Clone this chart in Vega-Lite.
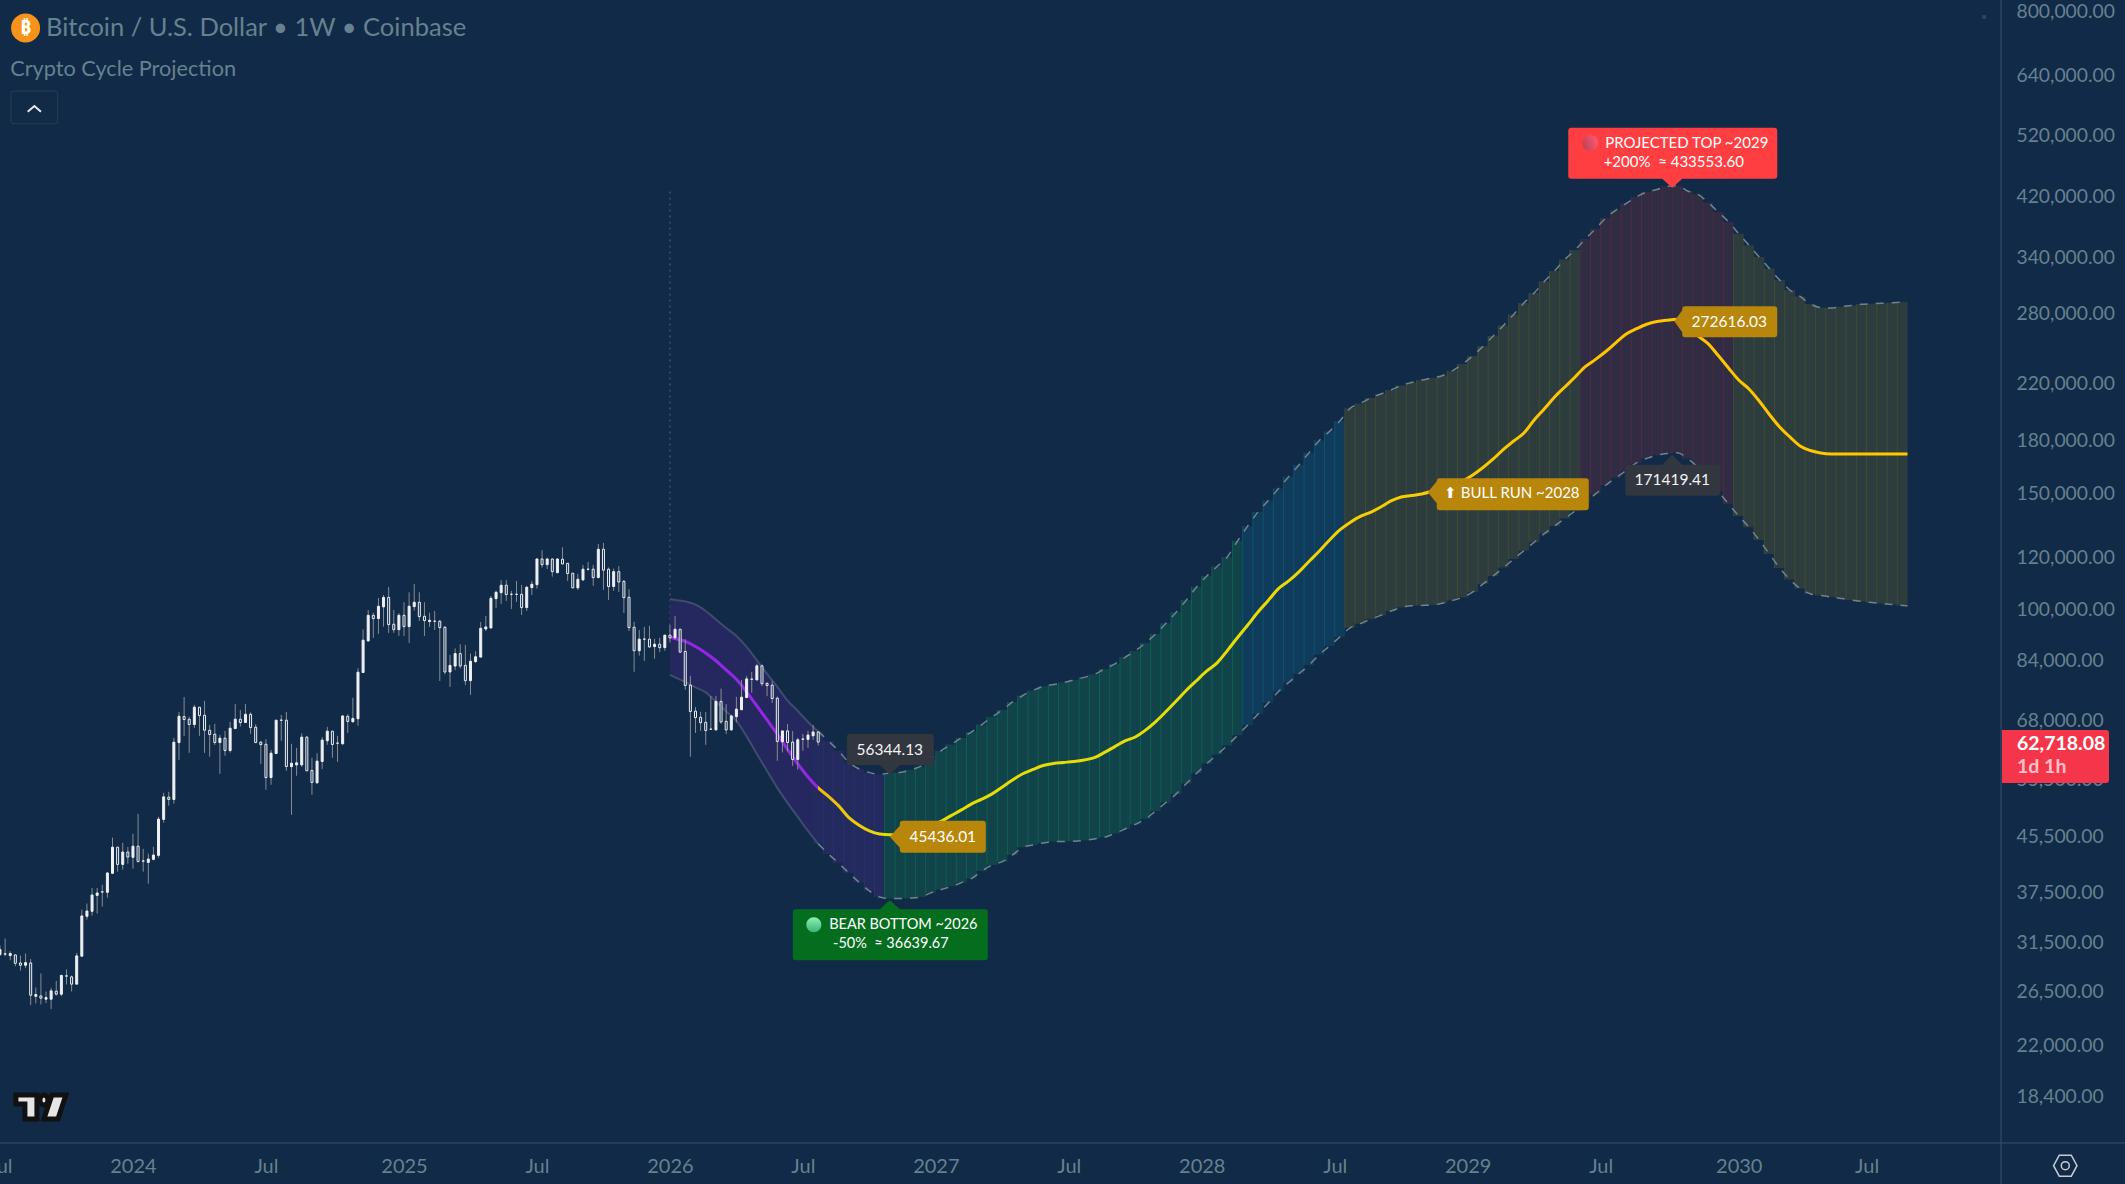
{
  "$schema": "https://vega.github.io/schema/vega-lite/v6.json",
  "width": 2001,
  "height": 1143,
  "autosize": {"type": "none"},
  "padding": {"left": 0, "top": 0, "right": 124, "bottom": 41},
  "background": "#102a48",
  "config": {"font": "Lato", "view": {"stroke": null}},
  "datasets": {
    "candles": [
      {"d":"2023-07-03","o":29965,"h":30900,"l":29800,"c":30484},
      {"d":"2023-07-10","o":30050,"h":31676,"l":29792,"c":30000},
      {"d":"2023-07-17","o":29861,"h":30311,"l":29377,"c":30069},
      {"d":"2023-07-24","o":29931,"h":29931,"l":28774,"c":29067},
      {"d":"2023-07-31","o":29100,"h":29861,"l":28350,"c":28872},
      {"d":"2023-08-07","o":28872,"h":30069,"l":28578,"c":29135},
      {"d":"2023-08-14","o":29100,"h":29515,"l":25137,"c":26013},
      {"d":"2023-08-21","o":25920,"h":26726,"l":25282,"c":26075},
      {"d":"2023-08-28","o":25951,"h":28057,"l":25195,"c":25746},
      {"d":"2023-09-04","o":25659,"h":26354,"l":25311,"c":25804},
      {"d":"2023-09-11","o":25659,"h":26695,"l":24789,"c":26416},
      {"d":"2023-09-18","o":26385,"h":27346,"l":25982,"c":26106},
      {"d":"2023-09-25","o":26106,"h":27959,"l":25920,"c":27861},
      {"d":"2023-10-02","o":27830,"h":28448,"l":27005,"c":27800},
      {"d":"2023-10-09","o":27731,"h":27861,"l":26354,"c":27036},
      {"d":"2023-10-16","o":27036,"h":30138,"l":27005,"c":29826},
      {"d":"2023-10-23","o":29792,"h":35032,"l":29792,"c":34269},
      {"d":"2023-10-30","o":34230,"h":35774,"l":33840,"c":34867},
      {"d":"2023-11-06","o":34826,"h":37770,"l":34308,"c":36854},
      {"d":"2023-11-13","o":36811,"h":37770,"l":34542,"c":37116},
      {"d":"2023-11-20","o":37270,"h":38206,"l":35403,"c":37230},
      {"d":"2023-11-27","o":37203,"h":39927,"l":36515,"c":39788},
      {"d":"2023-12-04","o":39742,"h":44996,"l":39696,"c":43522},
      {"d":"2023-12-11","o":43522,"h":43522,"l":39974,"c":40994},
      {"d":"2023-12-18","o":40994,"h":44192,"l":40252,"c":42790},
      {"d":"2023-12-25","o":42790,"h":43571,"l":41087,"c":42058},
      {"d":"2024-01-01","o":42010,"h":45596,"l":40393,"c":43672},
      {"d":"2024-01-08","o":43672,"h":48870,"l":41229,"c":41424},
      {"d":"2024-01-15","o":41500,"h":43278,"l":39974,"c":41450},
      {"d":"2024-01-22","o":41278,"h":42546,"l":38337,"c":41766},
      {"d":"2024-01-29","o":41717,"h":43571,"l":41570,"c":42351},
      {"d":"2024-02-05","o":42302,"h":48373,"l":41961,"c":47986},
      {"d":"2024-02-12","o":47931,"h":52578,"l":47379,"c":51842},
      {"d":"2024-02-19","o":51783,"h":52763,"l":50265,"c":51374},
      {"d":"2024-02-26","o":51374,"h":63644,"l":50616,"c":62682},
      {"d":"2024-03-04","o":62608,"h":69630,"l":58960,"c":68602},
      {"d":"2024-03-11","o":68524,"h":73357,"l":64088,"c":67826},
      {"d":"2024-03-18","o":67903,"h":68524,"l":60409,"c":66662},
      {"d":"2024-03-25","o":66662,"h":71378,"l":65886,"c":70790},
      {"d":"2024-04-01","o":70790,"h":70790,"l":64088,"c":68757},
      {"d":"2024-04-08","o":68834,"h":72364,"l":60409,"c":65346},
      {"d":"2024-04-15","o":65346,"h":66584,"l":59617,"c":64384},
      {"d":"2024-04-22","o":64458,"h":66817,"l":62090,"c":62608},
      {"d":"2024-04-29","o":62608,"h":64310,"l":56164,"c":63570},
      {"d":"2024-05-06","o":63570,"h":65198,"l":59788,"c":60892},
      {"d":"2024-05-13","o":60892,"h":67282,"l":60478,"c":65808},
      {"d":"2024-05-20","o":65730,"h":71618,"l":65652,"c":67903},
      {"d":"2024-05-27","o":67903,"h":70127,"l":66196,"c":67127},
      {"d":"2024-06-03","o":67127,"h":71618,"l":67050,"c":69067},
      {"d":"2024-06-10","o":69067,"h":69548,"l":64532,"c":65963},
      {"d":"2024-06-17","o":66041,"h":66740,"l":62534,"c":62608},
      {"d":"2024-06-24","o":62682,"h":62978,"l":58138,"c":62164},
      {"d":"2024-07-01","o":62238,"h":63348,"l":53136,"c":55440},
      {"d":"2024-07-08","o":55440,"h":61030,"l":54056,"c":60340},
      {"d":"2024-07-15","o":60271,"h":67748,"l":60202,"c":67670},
      {"d":"2024-07-22","o":67700,"h":68911,"l":62978,"c":67640},
      {"d":"2024-07-29","o":67670,"h":69630,"l":56757,"c":57612},
      {"d":"2024-08-05","o":57586,"h":62339,"l":48700,"c":58280},
      {"d":"2024-08-12","o":57933,"h":61472,"l":55787,"c":58349},
      {"d":"2024-08-19","o":57933,"h":64650,"l":57517,"c":63800},
      {"d":"2024-08-26","o":63800,"h":64098,"l":56753,"c":56753},
      {"d":"2024-09-02","o":56822,"h":59390,"l":52219,"c":54505},
      {"d":"2024-09-09","o":54439,"h":60352,"l":54250,"c":58696},
      {"d":"2024-09-16","o":58627,"h":63800,"l":57100,"c":63150},
      {"d":"2024-09-23","o":63005,"h":66132,"l":62118,"c":65136},
      {"d":"2024-09-30","o":65136,"h":65136,"l":59390,"c":62192},
      {"d":"2024-10-07","o":62510,"h":64098,"l":58558,"c":62460},
      {"d":"2024-10-14","o":62339,"h":68917,"l":62118,"c":68670},
      {"d":"2024-10-21","o":68587,"h":69082,"l":64728,"c":67380},
      {"d":"2024-10-28","o":67302,"h":73130,"l":67146,"c":68091},
      {"d":"2024-11-04","o":68008,"h":81078,"l":66366,"c":79965},
      {"d":"2024-11-11","o":79872,"h":92810,"l":79780,"c":89360},
      {"d":"2024-11-18","o":89150,"h":99270,"l":88840,"c":97440},
      {"d":"2024-11-25","o":97440,"h":98334,"l":90088,"c":96337},
      {"d":"2024-12-02","o":96337,"h":103482,"l":91340,"c":100557},
      {"d":"2024-12-09","o":100323,"h":104570,"l":93692,"c":103716},
      {"d":"2024-12-16","o":103716,"h":107546,"l":91652,"c":94350},
      {"d":"2024-12-23","o":94470,"h":99270,"l":91652,"c":92700},
      {"d":"2024-12-30","o":92700,"h":98217,"l":90715,"c":97440},
      {"d":"2025-01-06","o":97440,"h":101960,"l":90715,"c":93692},
      {"d":"2025-01-13","o":93692,"h":105560,"l":88530,"c":100557},
      {"d":"2025-01-20","o":100440,"h":108660,"l":99036,"c":101960},
      {"d":"2025-01-27","o":101960,"h":105560,"l":95560,"c":97000},
      {"d":"2025-02-03","o":97110,"h":101960,"l":90715,"c":95670},
      {"d":"2025-02-10","o":95340,"h":98334,"l":93580,"c":95785},
      {"d":"2025-02-17","o":95480,"h":98920,"l":92590,"c":95420},
      {"d":"2025-02-24","o":95450,"h":95900,"l":77550,"c":93360},
      {"d":"2025-03-03","o":93470,"h":93910,"l":79360,"c":80015},
      {"d":"2025-03-10","o":80015,"h":84925,"l":75994,"c":81880},
      {"d":"2025-03-17","o":81685,"h":86860,"l":80500,"c":85296},
      {"d":"2025-03-24","o":85296,"h":88110,"l":81000,"c":81685},
      {"d":"2025-03-31","o":81880,"h":87900,"l":76440,"c":77640},
      {"d":"2025-04-07","o":77640,"h":85296,"l":73900,"c":83060},
      {"d":"2025-04-14","o":82960,"h":86030,"l":82570,"c":84360},
      {"d":"2025-04-21","o":84270,"h":95230,"l":84170,"c":93140},
      {"d":"2025-04-28","o":92920,"h":97220,"l":92280,"c":93580},
      {"d":"2025-05-05","o":93250,"h":104200,"l":93030,"c":103365},
      {"d":"2025-05-12","o":103250,"h":106180,"l":99970,"c":105560},
      {"d":"2025-05-19","o":105430,"h":110150,"l":101370,"c":108170},
      {"d":"2025-05-26","o":108170,"h":110150,"l":102430,"c":104700},
      {"d":"2025-06-02","o":104850,"h":106060,"l":99620,"c":104800},
      {"d":"2025-06-09","o":104830,"h":109780,"l":102080,"c":104790},
      {"d":"2025-06-16","o":104820,"h":108290,"l":97540,"c":100090},
      {"d":"2025-06-23","o":100090,"h":107920,"l":98920,"c":107420},
      {"d":"2025-06-30","o":107300,"h":109780,"l":104570,"c":108540},
      {"d":"2025-07-07","o":108400,"h":118900,"l":106900,"c":118510},
      {"d":"2025-07-14","o":118510,"h":122280,"l":115000,"c":116200},
      {"d":"2025-07-21","o":116200,"h":119000,"l":114450,"c":118510},
      {"d":"2025-07-28","o":118510,"h":118800,"l":111450,"c":113410},
      {"d":"2025-08-04","o":113010,"h":118800,"l":112760,"c":118510},
      {"d":"2025-08-11","o":118410,"h":123430,"l":116350,"c":116480},
      {"d":"2025-08-18","o":116740,"h":116740,"l":109810,"c":112670},
      {"d":"2025-08-25","o":112800,"h":112800,"l":106960,"c":107200},
      {"d":"2025-09-01","o":107200,"h":112540,"l":106460,"c":110440},
      {"d":"2025-09-08","o":110180,"h":116080,"l":109930,"c":114380},
      {"d":"2025-09-15","o":114400,"h":117300,"l":113820,"c":114350},
      {"d":"2025-09-22","o":114380,"h":116080,"l":107950,"c":111100},
      {"d":"2025-09-29","o":111100,"h":124890,"l":110840,"c":122590},
      {"d":"2025-10-06","o":122590,"h":125330,"l":106460,"c":114000},
      {"d":"2025-10-13","o":114380,"h":115070,"l":102810,"c":107700},
      {"d":"2025-10-20","o":107700,"h":114640,"l":106090,"c":113400},
      {"d":"2025-10-27","o":113400,"h":115620,"l":105720,"c":109390},
      {"d":"2025-11-03","o":109650,"h":110180,"l":98250,"c":103610},
      {"d":"2025-11-10","o":103730,"h":106710,"l":92280,"c":93380},
      {"d":"2025-11-17","o":93490,"h":95300,"l":80070,"c":86150},
      {"d":"2025-11-24","o":86150,"h":92610,"l":84690,"c":89690},
      {"d":"2025-12-01","o":89720,"h":93600,"l":83180,"c":89660},
      {"d":"2025-12-08","o":89690,"h":93930,"l":86980,"c":87300},
      {"d":"2025-12-15","o":87400,"h":89800,"l":83770,"c":88130},
      {"d":"2025-12-22","o":88130,"h":90130,"l":85740,"c":87090},
      {"d":"2025-12-29","o":87090,"h":91050,"l":86150,"c":90940},
      {"d":"2026-01-05","o":90940,"h":94270,"l":88650,"c":90130},
      {"d":"2026-01-12","o":90130,"h":97200,"l":89480,"c":92830},
      {"d":"2026-01-19","o":92830,"h":92830,"l":85430,"c":85740},
      {"d":"2026-01-26","o":85940,"h":89690,"l":75218,"c":76354},
      {"d":"2026-02-02","o":76440,"h":78956,"l":59600,"c":69750},
      {"d":"2026-02-09","o":69840,"h":70830,"l":64730,"c":68270},
      {"d":"2026-02-16","o":68350,"h":69670,"l":65200,"c":67090},
      {"d":"2026-02-23","o":67170,"h":69590,"l":62120,"c":65280},
      {"d":"2026-03-02","o":65620,"h":73560,"l":65430,"c":65570},
      {"d":"2026-03-09","o":65430,"h":73650,"l":65280,"c":72250},
      {"d":"2026-03-16","o":72250,"h":75500,"l":66800,"c":67250},
      {"d":"2026-03-23","o":67410,"h":71560,"l":64500,"c":65430},
      {"d":"2026-03-30","o":65430,"h":68930,"l":65200,"c":68680},
      {"d":"2026-04-06","o":68510,"h":73390,"l":67170,"c":70330},
      {"d":"2026-04-13","o":70170,"h":77840,"l":70170,"c":73300},
      {"d":"2026-04-20","o":73210,"h":78960,"l":73050,"c":78120},
      {"d":"2026-04-27","o":78070,"h":80070,"l":74430,"c":78000},
      {"d":"2026-05-04","o":77840,"h":82300,"l":77750,"c":81750},
      {"d":"2026-05-11","o":81750,"h":82120,"l":76170,"c":76820},
      {"d":"2026-05-18","o":76910,"h":77190,"l":73560,"c":76354},
      {"d":"2026-05-25","o":76440,"h":77560,"l":71840,"c":72970},
      {"d":"2026-06-01","o":73050,"h":73470,"l":58770,"c":62850},
      {"d":"2026-06-08","o":62780,"h":65200,"l":60500,"c":65200},
      {"d":"2026-06-15","o":65200,"h":66800,"l":60710,"c":62630},
      {"d":"2026-06-22","o":62710,"h":65200,"l":57755,"c":59040},
      {"d":"2026-06-29","o":59040,"h":63650,"l":56970,"c":63220},
      {"d":"2026-07-06","o":63400,"h":64500,"l":60850,"c":63330},
      {"d":"2026-07-13","o":63300,"h":65200,"l":61460,"c":64270},
      {"d":"2026-07-20","o":64100,"h":66520,"l":63220,"c":64960},
      {"d":"2026-07-27","o":64960,"h":65100,"l":61970,"c":62718}
    ],
    "band": [
      {"d":"2026-01-05","hi":103130,"mid":90380,"lo":79200,"phase":"past"},
      {"d":"2026-01-12","hi":102770,"mid":89900,"lo":78530,"phase":"past"},
      {"d":"2026-01-26","hi":102240,"mid":88970,"lo":77290,"phase":"past"},
      {"d":"2026-02-09","hi":101150,"mid":87420,"lo":75820,"phase":"past"},
      {"d":"2026-02-23","hi":98920,"mid":85490,"lo":74550,"phase":"past"},
      {"d":"2026-03-09","hi":96040,"mid":83200,"lo":72170,"phase":"past"},
      {"d":"2026-03-23","hi":93250,"mid":80580,"lo":69760,"phase":"past"},
      {"d":"2026-04-06","hi":90700,"mid":78010,"lo":67490,"phase":"past"},
      {"d":"2026-04-20","hi":87300,"mid":74650,"lo":63970,"phase":"past"},
      {"d":"2026-05-04","hi":83320,"mid":71100,"lo":60180,"phase":"past"},
      {"d":"2026-05-18","hi":79470,"mid":67720,"lo":56720,"phase":"past"},
      {"d":"2026-06-01","hi":75960,"mid":64450,"lo":53480,"phase":"past"},
      {"d":"2026-06-15","hi":72450,"mid":61130,"lo":50760,"phase":"past"},
      {"d":"2026-06-29","hi":69880,"mid":58130,"lo":48350,"phase":"past"},
      {"d":"2026-07-13","hi":67260,"mid":55560,"lo":46050,"phase":"past"},
      {"d":"2026-07-27","hi":65070,"mid":53480,"lo":44020,"phase":"pivot"},
      {"d":"2026-08-10","hi":62960,"mid":51940,"lo":42510,"phase":"bear"},
      {"d":"2026-08-24","hi":60810,"mid":50240,"lo":41150,"phase":"bear"},
      {"d":"2026-09-07","hi":58410,"mid":48230,"lo":39800,"phase":"bear"},
      {"d":"2026-09-21","hi":57120,"mid":46980,"lo":38510,"phase":"bear"},
      {"d":"2026-10-05","hi":56410,"mid":46050,"lo":37380,"phase":"bear"},
      {"d":"2026-10-19","hi":56050,"mid":45550,"lo":36600,"phase":"bear"},
      {"d":"2026-11-02","hi":56344,"mid":45436,"lo":36400,"phase":"accum"},
      {"d":"2026-11-16","hi":56430,"mid":45640,"lo":36400,"phase":"accum"},
      {"d":"2026-11-30","hi":56920,"mid":46050,"lo":36450,"phase":"accum"},
      {"d":"2026-12-14","hi":57620,"mid":46530,"lo":36600,"phase":"accum"},
      {"d":"2026-12-28","hi":59140,"mid":47090,"lo":37130,"phase":"accum"},
      {"d":"2027-01-11","hi":60810,"mid":47610,"lo":37560,"phase":"accum"},
      {"d":"2027-01-25","hi":62200,"mid":48570,"lo":37950,"phase":"accum"},
      {"d":"2027-02-08","hi":63620,"mid":49540,"lo":38480,"phase":"accum"},
      {"d":"2027-02-22","hi":64960,"mid":50590,"lo":39040,"phase":"accum"},
      {"d":"2027-03-08","hi":66660,"mid":51420,"lo":40070,"phase":"accum"},
      {"d":"2027-03-22","hi":68440,"mid":52380,"lo":40920,"phase":"accum"},
      {"d":"2027-04-05","hi":70120,"mid":53660,"lo":41390,"phase":"accum"},
      {"d":"2027-04-19","hi":72100,"mid":54980,"lo":42360,"phase":"accum"},
      {"d":"2027-05-03","hi":73730,"mid":56180,"lo":43500,"phase":"accum"},
      {"d":"2027-05-17","hi":75030,"mid":57020,"lo":43860,"phase":"accum"},
      {"d":"2027-05-31","hi":76120,"mid":57810,"lo":44170,"phase":"accum"},
      {"d":"2027-06-14","hi":76600,"mid":58230,"lo":44350,"phase":"accum"},
      {"d":"2027-06-28","hi":77130,"mid":58430,"lo":44400,"phase":"accum"},
      {"d":"2027-07-12","hi":77820,"mid":58630,"lo":44440,"phase":"accum"},
      {"d":"2027-07-26","hi":78530,"mid":58930,"lo":44570,"phase":"accum"},
      {"d":"2027-08-09","hi":79340,"mid":59410,"lo":44790,"phase":"accum"},
      {"d":"2027-08-23","hi":80870,"mid":60500,"lo":45060,"phase":"accum"},
      {"d":"2027-09-06","hi":82290,"mid":61730,"lo":45660,"phase":"accum"},
      {"d":"2027-09-20","hi":84200,"mid":62960,"lo":46370,"phase":"accum"},
      {"d":"2027-10-04","hi":86080,"mid":63840,"lo":47110,"phase":"accum"},
      {"d":"2027-10-18","hi":88520,"mid":65370,"lo":48010,"phase":"accum"},
      {"d":"2027-11-01","hi":91330,"mid":67350,"lo":49370,"phase":"accum"},
      {"d":"2027-11-15","hi":94760,"mid":69740,"lo":50830,"phase":"accum"},
      {"d":"2027-11-29","hi":98450,"mid":72350,"lo":52380,"phase":"accum"},
      {"d":"2027-12-13","hi":102770,"mid":75090,"lo":54310,"phase":"accum"},
      {"d":"2027-12-27","hi":107540,"mid":77690,"lo":56270,"phase":"accum"},
      {"d":"2028-01-10","hi":111730,"mid":80300,"lo":58210,"phase":"accum"},
      {"d":"2028-01-24","hi":115440,"mid":82580,"lo":60060,"phase":"accum"},
      {"d":"2028-02-07","hi":119350,"mid":86200,"lo":61970,"phase":"accum"},
      {"d":"2028-02-21","hi":126170,"mid":90220,"lo":64220,"phase":"accum"},
      {"d":"2028-03-06","hi":132940,"mid":94230,"lo":66560,"phase":"rise"},
      {"d":"2028-03-20","hi":139560,"mid":98580,"lo":69160,"phase":"rise"},
      {"d":"2028-04-03","hi":145190,"mid":102590,"lo":71860,"phase":"rise"},
      {"d":"2028-04-17","hi":151380,"mid":106930,"lo":74780,"phase":"rise"},
      {"d":"2028-05-01","hi":157780,"mid":109800,"lo":77150,"phase":"rise"},
      {"d":"2028-05-15","hi":164330,"mid":113290,"lo":79530,"phase":"rise"},
      {"d":"2028-05-29","hi":171520,"mid":117580,"lo":82000,"phase":"rise"},
      {"d":"2028-06-12","hi":178960,"mid":121860,"lo":85020,"phase":"rise"},
      {"d":"2028-06-26","hi":184660,"mid":126600,"lo":87600,"phase":"rise"},
      {"d":"2028-07-10","hi":191450,"mid":131080,"lo":90380,"phase":"rise"},
      {"d":"2028-07-24","hi":200040,"mid":134560,"lo":93310,"phase":"bull"},
      {"d":"2028-08-07","hi":203480,"mid":137400,"lo":94660,"phase":"bull"},
      {"d":"2028-08-21","hi":207400,"mid":139380,"lo":96140,"phase":"bull"},
      {"d":"2028-09-04","hi":210310,"mid":142000,"lo":97430,"phase":"bull"},
      {"d":"2028-09-18","hi":213220,"mid":145000,"lo":98890,"phase":"bull"},
      {"d":"2028-10-02","hi":216540,"mid":147030,"lo":100140,"phase":"bull"},
      {"d":"2028-10-16","hi":218800,"mid":147750,"lo":100740,"phase":"bull"},
      {"d":"2028-10-30","hi":220760,"mid":148570,"lo":100840,"phase":"bull"},
      {"d":"2028-11-13","hi":222320,"mid":149960,"lo":100980,"phase":"bull"},
      {"d":"2028-11-27","hi":224120,"mid":151700,"lo":101610,"phase":"bull"},
      {"d":"2028-12-11","hi":227950,"mid":153560,"lo":102610,"phase":"bull"},
      {"d":"2028-12-25","hi":233420,"mid":155430,"lo":103680,"phase":"bull"},
      {"d":"2029-01-08","hi":239990,"mid":158710,"lo":105680,"phase":"bull"},
      {"d":"2029-01-22","hi":248240,"mid":162900,"lo":108670,"phase":"bull"},
      {"d":"2029-02-05","hi":257300,"mid":167780,"lo":111730,"phase":"bull"},
      {"d":"2029-02-19","hi":266850,"mid":173530,"lo":115030,"phase":"bull"},
      {"d":"2029-03-05","hi":277260,"mid":178600,"lo":118520,"phase":"bull"},
      {"d":"2029-03-19","hi":288570,"mid":183650,"lo":121990,"phase":"bull"},
      {"d":"2029-04-02","hi":298770,"mid":192110,"lo":125610,"phase":"bull"},
      {"d":"2029-04-16","hi":310940,"mid":199790,"lo":129470,"phase":"bull"},
      {"d":"2029-04-30","hi":322490,"mid":208130,"lo":132940,"phase":"bull"},
      {"d":"2029-05-14","hi":335630,"mid":215480,"lo":136470,"phase":"bull"},
      {"d":"2029-05-28","hi":346890,"mid":223080,"lo":140040,"phase":"bull"},
      {"d":"2029-06-11","hi":360420,"mid":231240,"lo":144300,"phase":"top"},
      {"d":"2029-06-25","hi":373160,"mid":237160,"lo":148570,"phase":"top"},
      {"d":"2029-07-09","hi":387720,"mid":243780,"lo":153140,"phase":"top"},
      {"d":"2029-07-23","hi":398620,"mid":251450,"lo":157230,"phase":"top"},
      {"d":"2029-08-06","hi":407790,"mid":259090,"lo":161190,"phase":"top"},
      {"d":"2029-08-20","hi":417110,"mid":263860,"lo":165480,"phase":"top"},
      {"d":"2029-09-03","hi":424420,"mid":268000,"lo":168140,"phase":"top"},
      {"d":"2029-09-17","hi":428100,"mid":270500,"lo":170000,"phase":"top"},
      {"d":"2029-10-01","hi":432800,"mid":271800,"lo":171000,"phase":"top"},
      {"d":"2029-10-15","hi":433553,"mid":272616,"lo":171420,"phase":"top"},
      {"d":"2029-10-29","hi":425890,"mid":267000,"lo":168000,"phase":"top"},
      {"d":"2029-11-12","hi":420940,"mid":257620,"lo":162960,"phase":"top"},
      {"d":"2029-11-26","hi":409340,"mid":250540,"lo":156290,"phase":"top"},
      {"d":"2029-12-10","hi":395900,"mid":240420,"lo":149910,"phase":"top"},
      {"d":"2029-12-24","hi":382630,"mid":230190,"lo":143500,"phase":"top"},
      {"d":"2030-01-07","hi":367020,"mid":220760,"lo":137640,"phase":"bull"},
      {"d":"2030-01-21","hi":352650,"mid":213970,"lo":132330,"phase":"bull"},
      {"d":"2030-02-04","hi":338590,"mid":205250,"lo":126600,"phase":"bull"},
      {"d":"2030-02-18","hi":325310,"mid":195850,"lo":120610,"phase":"bull"},
      {"d":"2030-03-04","hi":312540,"mid":187520,"lo":114870,"phase":"bull"},
      {"d":"2030-03-18","hi":301860,"mid":181110,"lo":110370,"phase":"bull"},
      {"d":"2030-04-01","hi":295160,"mid":175540,"lo":106970,"phase":"bull"},
      {"d":"2030-04-15","hi":287570,"mid":172800,"lo":105000,"phase":"bull"},
      {"d":"2030-04-29","hi":284060,"mid":171330,"lo":104370,"phase":"bull"},
      {"d":"2030-05-13","hi":283570,"mid":170730,"lo":103860,"phase":"bull"},
      {"d":"2030-05-27","hi":284880,"mid":170730,"lo":103310,"phase":"bull"},
      {"d":"2030-06-10","hi":286000,"mid":170730,"lo":102770,"phase":"bull"},
      {"d":"2030-06-24","hi":287170,"mid":170730,"lo":102240,"phase":"bull"},
      {"d":"2030-07-08","hi":287850,"mid":170730,"lo":101860,"phase":"bull"},
      {"d":"2030-07-22","hi":288360,"mid":170730,"lo":101510,"phase":"bull"},
      {"d":"2030-08-05","hi":288850,"mid":170730,"lo":101190,"phase":"bull"},
      {"d":"2030-08-19","hi":289430,"mid":170730,"lo":100840,"phase":"bull"},
      {"d":"2030-08-26","hi":289530,"mid":170730,"lo":100680,"phase":"end"}
    ]
  },
  "encoding": {
    "x": {
      "field": "d",
      "type": "temporal",
      "scale": {"type": "time", "padding": 0, "domain": ["2023-07-03", "2031-01-01"]},
      "axis": {
        "title": null,
        "grid": false,
        "domain": false,
        "ticks": false,
        "labelFontSize": 20,
        "labelColor": "#66818f",
        "labelPadding": 13,
        "labelOverlap": false,
        "labelBound": false,
        "labelFlush": false,
        "values": ["2023-07-03", "2024-01-01", "2024-07-01", "2025-01-06", "2025-07-07", "2026-01-05", "2026-07-06", "2027-01-04", "2027-07-05", "2028-01-03", "2028-07-03", "2029-01-01", "2029-07-02", "2030-01-07", "2030-07-01"],
        "labelExpr": "month(datum.value) == 6 ? 'Jul' : timeFormat(datum.value, '%Y')"
      }
    },
    "y": {
      "field": "v",
      "type": "quantitative",
      "scale": {"type": "log", "domain": [15565, 827150]},
      "axis": {
        "title": null,
        "orient": "right",
        "grid": false,
        "domain": false,
        "ticks": false,
        "labelFontSize": 19.3,
        "labelColor": "#66818f",
        "labelPadding": 15,
        "labelOffset": 2,
        "labelOverlap": false,
        "labelBound": false,
        "format": ",.2f",
        "values": [800000, 640000, 520000, 420000, 340000, 280000, 220000, 180000, 150000, 120000, 100000, 84000, 68000, 55500, 45500, 37500, 31500, 26500, 22000, 18400]
      }
    }
  },
  "layer": [
    {
      "data": {"values": [
        {"d": "2031-01-01", "d2": "2031-01-01", "v": 827150, "v2": 13500},
        {"d": "2023-07-03", "d2": "2031-06-20", "v": 15565, "v2": 15565}
      ]},
      "mark": {"type": "rule", "color": "#3b5068", "strokeWidth": 1},
      "encoding": {"x2": {"field": "d2"}, "y2": {"field": "v2"}}
    },
    {
      "data": {"values": [{"d": "2026-01-05", "v": 425000, "v2": 90380}]},
      "mark": {"type": "rule", "color": "#4f6880", "strokeWidth": 1, "strokeDash": [2, 4]},
      "encoding": {"y2": {"field": "v2"}}
    },
    {
      "data": {"name": "band"},
      "transform": [{"filter": {"field": "phase", "oneOf": ["past", "pivot"]}}],
      "mark": {"type": "area", "color": "#25285f", "interpolate": "monotone"},
      "encoding": {
        "y": {"field": "hi", "type": "quantitative", "title": null},
        "y2": {"field": "lo"}
      }
    },
    {
      "data": {"name": "band"},
      "transform": [{"filter": {"field": "phase", "oneOf": ["pivot", "bear", "accum", "rise", "bull", "top"]}}],
      "mark": {"type": "bar", "size": 10.4},
      "encoding": {
        "y": {"field": "hi", "type": "quantitative", "title": null},
        "y2": {"field": "lo"},
        "fill": {
          "field": "phase",
          "legend": null,
          "scale": {
            "domain": ["pivot", "bear", "accum", "rise", "bull", "top"],
            "range": ["#232a5e", "#232a5e", "#10434a", "#0e3c5a", "#2d3d3d", "#312c43"]
          }
        }
      }
    },
    {
      "data": {"name": "band"},
      "transform": [{"filter": {"field": "phase", "oneOf": ["bear", "accum", "rise", "bull", "top"]}}],
      "mark": {"type": "rule", "strokeWidth": 1, "xOffset": -5.1},
      "encoding": {
        "y": {"field": "hi", "type": "quantitative", "title": null},
        "y2": {"field": "lo"},
        "stroke": {
          "field": "phase",
          "legend": null,
          "scale": {
            "domain": ["bear", "accum", "rise", "bull", "top"],
            "range": ["#2c2f70", "#12604f", "#125172", "#434b38", "#4a2f40"]
          }
        }
      }
    },
    {
      "data": {"name": "band"},
      "transform": [{"filter": {"field": "phase", "oneOf": ["past", "pivot"]}}],
      "mark": {"type": "line", "color": "#3f4c6d", "strokeWidth": 2, "interpolate": "monotone"},
      "encoding": {"y": {"field": "hi", "type": "quantitative", "title": null}}
    },
    {
      "data": {"name": "band"},
      "transform": [{"filter": {"field": "phase", "oneOf": ["past", "pivot"]}}],
      "mark": {"type": "line", "color": "#3f4c6d", "strokeWidth": 2, "interpolate": "monotone"},
      "encoding": {"y": {"field": "lo", "type": "quantitative", "title": null}}
    },
    {
      "data": {"name": "band"},
      "transform": [{"filter": {"field": "phase", "oneOf": ["pivot", "bear", "accum", "rise", "bull", "top", "end"]}}],
      "mark": {"type": "line", "color": "#6f848c", "strokeWidth": 1.5, "strokeDash": [8, 8], "interpolate": "monotone"},
      "encoding": {"y": {"field": "hi", "type": "quantitative", "title": null}}
    },
    {
      "data": {"name": "band"},
      "transform": [{"filter": {"field": "phase", "oneOf": ["pivot", "bear", "accum", "rise", "bull", "top", "end"]}}],
      "mark": {"type": "line", "color": "#6f848c", "strokeWidth": 1.5, "strokeDash": [8, 8], "interpolate": "monotone"},
      "encoding": {"y": {"field": "lo", "type": "quantitative", "title": null}}
    },
    {
      "data": {"name": "band"},
      "mark": {
        "type": "line",
        "strokeWidth": 3,
        "interpolate": "monotone",
        "stroke": {
          "gradient": "linear", "x1": 0, "y1": 0, "x2": 1, "y2": 0,
          "stops": [
            {"offset": 0, "color": "#9426e6"},
            {"offset": 0.1195, "color": "#9426e6"},
            {"offset": 0.1196, "color": "#f2b70f"},
            {"offset": 0.175, "color": "#e8dc08"},
            {"offset": 0.47, "color": "#e8dc08"},
            {"offset": 0.55, "color": "#f4cf05"},
            {"offset": 0.73, "color": "#ffc400"},
            {"offset": 1, "color": "#ffc800"}
          ]
        }
      },
      "encoding": {"y": {"field": "mid", "type": "quantitative", "title": null}}
    },
    {
      "data": {"name": "candles"},
      "mark": {"type": "rule", "color": "#888c90", "strokeWidth": 1},
      "encoding": {
        "y": {"field": "h", "type": "quantitative", "title": null},
        "y2": {"field": "l"}
      }
    },
    {
      "data": {"name": "candles"},
      "mark": {"type": "bar", "size": 2, "stroke": "#eef0f2", "strokeWidth": 1},
      "encoding": {
        "y": {"field": "o", "type": "quantitative", "title": null},
        "y2": {"field": "c"},
        "fill": {"condition": {"test": "datum.c >= datum.o", "value": "#eef0f2"}, "value": "#102a48"}
      }
    },
    {
      "data": {"values": [{"d": "2026-11-02", "v": 56344, "label": "56344.13"}]},
      "layer": [
        {"mark": {"type": "point", "filled": true, "opacity": 1, "size": 4, "fill": "#31363f", "shape": "M0,2 L-10,-8 L-40,-8 Q-43,-8 -43,-11 L-43,-36 Q-43,-39 -40,-39 L41,-39 Q44,-39 44,-36 L44,-11 Q44,-8 41,-8 L10,-8 Z"}},
        {"mark": {"type": "text", "color": "#f2f3f4", "fontSize": 15.5, "dy": -23}, "encoding": {"text": {"field": "label"}}}
      ]
    },
    {
      "data": {"values": [{"d": "2026-11-02", "v": 45436, "label": "45436.01"}]},
      "layer": [
        {"mark": {"type": "point", "filled": true, "opacity": 1, "size": 4, "fill": "#b8860b", "shape": "M0,2 L10,-9 L10,-11 Q10,-14 13,-14 L93,-14 Q96,-14 96,-11 L96,15 Q96,18 93,18 L13,18 Q10,18 10,15 L10,13 Z"}},
        {"mark": {"type": "text", "color": "#ffffff", "fontSize": 15.5, "dx": 53, "dy": 2}, "encoding": {"text": {"field": "label"}}}
      ]
    },
    {
      "data": {"values": [{"d": "2026-11-02", "v": 36640, "line1": "BEAR BOTTOM ~2026", "line2": "-50%\u00a0\u00a0≈ 36639.67"}]},
      "layer": [
        {"mark": {"type": "point", "filled": true, "opacity": 1, "size": 4, "fill": "#056e1e", "shape": "M0,3.5 L-10,12.5 L-94,12.5 Q-97,12.5 -97,15.5 L-97,60.5 Q-97,63.5 -94,63.5 L95,63.5 Q98,63.5 98,60.5 L98,15.5 Q98,12.5 95,12.5 L10,12.5 Z"}},
        {"mark": {"type": "point", "filled": true, "opacity": 1, "size": 4, "fill": {"gradient": "linear", "x1": 0.5, "y1": 0, "x2": 0.5, "y2": 1, "stops": [{"offset": 0, "color": "#8ef0b2"}, {"offset": 1, "color": "#3cb377"}]}, "shape": "M-83.5,28 A7.5,7.5 0 1,1 -68.5,28 A7.5,7.5 0 1,1 -83.5,28 Z"}},
        {"mark": {"type": "text", "color": "#ffffff", "fontSize": 14.5, "dx": 13.5, "dy": 28.7}, "encoding": {"text": {"field": "line1"}}},
        {"mark": {"type": "text", "color": "#ffffff", "fontSize": 14.5, "dx": 1, "dy": 47.7}, "encoding": {"text": {"field": "line2"}}}
      ]
    },
    {
      "data": {"values": [{"d": "2029-10-08", "v": 433553, "line1": "PROJECTED TOP ~2029", "line2": "+200%\u00a0\u00a0≈ 433553.60"}]},
      "layer": [
        {"mark": {"type": "point", "filled": true, "opacity": 1, "size": 4, "fill": "#ff3e42", "shape": "M0,2 L-10,-7 L-101,-7 Q-104,-7 -104,-10 L-104,-55 Q-104,-58 -101,-58 L102,-58 Q105,-58 105,-55 L105,-10 Q105,-7 102,-7 L10,-7 Z"}},
        {"mark": {"type": "point", "filled": true, "opacity": 1, "size": 4, "fill": {"gradient": "linear", "x1": 1, "y1": 0.3, "x2": 0, "y2": 0.7, "stops": [{"offset": 0, "color": "#ff5a6e"}, {"offset": 1, "color": "#bf3f58"}]}, "shape": "M-90,-42.8 A8,8 0 1,1 -74,-42.8 A8,8 0 1,1 -90,-42.8 Z"}},
        {"mark": {"type": "text", "color": "#ffffff", "fontSize": 15, "dx": 14.5, "dy": -42.8}, "encoding": {"text": {"field": "line1"}}},
        {"mark": {"type": "text", "color": "#ffffff", "fontSize": 15, "dx": 1.5, "dy": -23.8}, "encoding": {"text": {"field": "line2"}}}
      ]
    },
    {
      "data": {"values": [{"d": "2029-10-08", "v": 272616, "label": "272616.03"}]},
      "layer": [
        {"mark": {"type": "point", "filled": true, "opacity": 1, "size": 4, "fill": "#b8860b", "shape": "M2,2 L10,-9 L10,-10 Q10,-13 13,-13 L102,-13 Q105,-13 105,-10 L105,15 Q105,18 102,18 L13,18 Q10,18 10,15 L10,13 Z"}},
        {"mark": {"type": "text", "color": "#ffffff", "fontSize": 15.5, "dx": 57, "dy": 3}, "encoding": {"text": {"field": "label"}}}
      ]
    },
    {
      "data": {"values": [{"d": "2029-10-08", "v": 171419, "label": "171419.41"}]},
      "layer": [
        {"mark": {"type": "point", "filled": true, "opacity": 1, "size": 4, "fill": "#31363f", "shape": "M0,2 L-10,12 L-44,12 Q-47,12 -47,15 L-47,40 Q-47,43 -44,43 L45,43 Q48,43 48,40 L48,15 Q48,12 45,12 L10,12 Z"}},
        {"mark": {"type": "text", "color": "#f2f3f4", "fontSize": 15.5, "dy": 27.5}, "encoding": {"text": {"field": "label"}}}
      ]
    },
    {
      "data": {"values": [{"d": "2028-11-06", "v": 149960, "label": "⬆ BULL RUN ~2028"}]},
      "layer": [
        {"mark": {"type": "point", "filled": true, "opacity": 1, "size": 4, "fill": "#b8860b", "shape": "M1,1 L10,-10 L10,-10 Q10,-13 13,-13 L159,-13 Q162,-13 162,-10 L162,16 Q162,19 159,19 L13,19 Q10,19 10,16 L10,12 Z"}},
        {"mark": {"type": "text", "color": "#ffffff", "fontSize": 15, "dx": 85, "dy": 1.5}, "encoding": {"text": {"field": "label"}}}
      ]
    },
    {
      "data": {"values": [{"d": "2031-01-01", "v": 62718, "price": "62,718.08", "left": "1d 1h"}]},
      "layer": [
        {"mark": {"type": "point", "filled": true, "opacity": 1, "size": 4, "fill": "#f5364a", "shape": "M1,-12 L105,-12 Q108,-12 108,-9 L108,38 Q108,41 105,41 L1,41 Z"}},
        {"mark": {"type": "text", "color": "#ffffff", "fontSize": 19.5, "fontWeight": "bold", "align": "left", "dx": 16, "dy": 2}, "encoding": {"text": {"field": "price"}}},
        {"mark": {"type": "text", "color": "#ffc2c8", "fontSize": 19.5, "fontWeight": "bold", "align": "left", "dx": 16, "dy": 25}, "encoding": {"text": {"field": "left"}}}
      ]
    },
    {
      "data": {"values": [{"d": "2023-08-07", "v": 750400, "label": "₿"}]},
      "layer": [
        {"mark": {"type": "point", "shape": "circle", "filled": true, "opacity": 1, "size": 841, "fill": "#f7931a"}},
        {"mark": {"type": "text", "color": "#ffffff", "fontSize": 19, "fontWeight": "bold", "font": "Noto Sans"}, "encoding": {"text": {"field": "label"}}}
      ]
    },
    {
      "data": {"values": [{"d": "2023-09-04", "v": 750400, "label": "Bitcoin / U.S. Dollar • 1W • Coinbase"}]},
      "mark": {"type": "text", "color": "#66818f", "fontSize": 25.5, "align": "left"},
      "encoding": {"text": {"field": "label"}}
    },
    {
      "data": {"values": [{"d": "2023-07-17", "v": 649700, "label": "Crypto Cycle Projection"}]},
      "mark": {"type": "text", "color": "#66818f", "fontSize": 21.7, "align": "left"},
      "encoding": {"text": {"field": "label"}}
    },
    {
      "data": {"values": [{"d": "2023-08-14", "v": 570200}]},
      "layer": [
        {"mark": {"type": "point", "opacity": 1, "size": 4, "filled": false, "stroke": "#2f3d4e", "strokeWidth": 1, "shape": "M-16.7,-16 L24,-16 Q27,-16 27,-13 L27,13.7 Q27,16.7 24,16.7 L-16.7,16.7 Q-19.7,16.7 -19.7,13.7 L-19.7,-13 Q-19.7,-16 -16.7,-16 Z"}},
        {"mark": {"type": "point", "opacity": 1, "size": 4, "filled": false, "stroke": "#e6e8ea", "strokeWidth": 2, "shape": "M-3,4.7 L3.7,-1 L10.3,4.7"}}
      ]
    },
    {
      "data": {"values": [{"d": "2023-08-28", "v": 17640}]},
      "mark": {"type": "point", "filled": true, "opacity": 1, "size": 4, "fill": "#e6e6e6", "stroke": "#111111", "strokeWidth": 5, "shape": "M-25,-12 L-4,-12 L-4,12 L-16,12 L-16,-3 L-25,-3 Z M-1,-7 A4,5 0 1,1 7,-7 A4,5 0 1,1 -1,-7 Z M11,-12 L25,-12 L17,12 L3,12 Z"}
    },
    {
      "data": {"values": [{"d": "2031-03-30", "v": 14385}]},
      "mark": {"type": "point", "opacity": 1, "size": 4, "filled": false, "stroke": "#c8ccd0", "strokeWidth": 1.5, "shape": "M-11.7,0 L-6,-10.5 L6,-10.5 L11.7,0 L6,10.5 L-6,10.5 Z M-4,0 A4,4 0 1,1 4,0 A4,4 0 1,1 -4,0 Z"}
    },
    {
      "data": {"values": [{"d": "2030-12-09", "v": 779700}]},
      "mark": {"type": "point", "shape": "square", "filled": true, "opacity": 1, "size": 14, "fill": "#3a4550"}
    }
  ]
}
